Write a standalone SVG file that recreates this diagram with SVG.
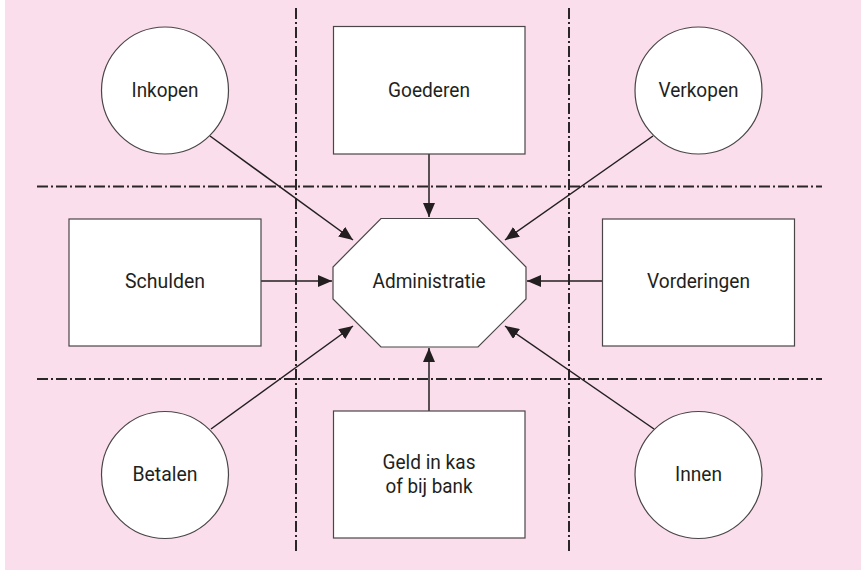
<svg xmlns="http://www.w3.org/2000/svg" width="861" height="571" viewBox="0 0 861 571">
<style>
.bg{fill:#fbdeec}
.shape{fill:#ffffff;stroke:#4a4547;stroke-width:1.2}
.grid{fill:none;stroke:#2a2526;stroke-width:2;stroke-dasharray:11 3 2 3}
.conn{fill:none;stroke:#231f20;stroke-width:1.5;marker-end:url(#ah)}
text{font-family:Roboto,"Liberation Sans",sans-serif;font-size:21px;fill:#231f20;text-anchor:middle}
</style>
<defs>
<marker id="ah" markerUnits="userSpaceOnUse" markerWidth="14" markerHeight="12" refX="14" refY="6" orient="auto">
<path d="M0,0 L14,6 L0,12 Z" fill="#231f20"/>
</marker>
</defs>
<rect class="bg" x="5" y="0" width="856" height="570"/>
<g id="gridlines">
<line class="grid" x1="296" y1="8" x2="296" y2="554"/>
<line class="grid" x1="569" y1="8" x2="569" y2="554"/>
<line class="grid" x1="37" y1="186.5" x2="822" y2="186.5"/>
<line class="grid" x1="37" y1="379" x2="822" y2="379"/>
</g>
<g id="connectors">
<line class="conn" x1="429" y1="154" x2="429" y2="217"/>
<line class="conn" x1="261" y1="281" x2="332" y2="281"/>
<line class="conn" x1="602" y1="281" x2="527" y2="281"/>
<line class="conn" x1="429" y1="411" x2="429" y2="348"/>
<line class="conn" x1="210" y1="136" x2="353" y2="240"/>
<line class="conn" x1="653" y1="136" x2="505" y2="240"/>
<line class="conn" x1="211" y1="429" x2="353" y2="326"/>
<line class="conn" x1="654" y1="429" x2="505" y2="326"/>
</g>
<g id="inkopen"><circle class="shape" cx="165" cy="90.5" r="63.5"/><text x="165" y="96.5" textLength="67" lengthAdjust="spacingAndGlyphs">Inkopen</text></g>
<g id="goederen"><rect class="shape" x="333.5" y="26.5" width="191.5" height="127.5"/><text x="429" y="96.5" textLength="82" lengthAdjust="spacingAndGlyphs">Goederen</text></g>
<g id="verkopen"><circle class="shape" cx="698.5" cy="90.5" r="63.5"/><text x="698.5" y="96.5" textLength="80" lengthAdjust="spacingAndGlyphs">Verkopen</text></g>
<g id="schulden"><rect class="shape" x="69" y="219" width="192" height="127"/><text x="165" y="288" textLength="80" lengthAdjust="spacingAndGlyphs">Schulden</text></g>
<g id="administratie"><polygon class="shape" points="381,218.5 478,218.5 526,267 526,299 478,347 381,347 333,299 333,267"/><text x="429" y="288" textLength="113" lengthAdjust="spacingAndGlyphs">Administratie</text></g>
<g id="vorderingen"><rect class="shape" x="602.5" y="219" width="192" height="127"/><text x="698.5" y="288" textLength="103" lengthAdjust="spacingAndGlyphs">Vorderingen</text></g>
<g id="betalen"><circle class="shape" cx="165" cy="475" r="63.5"/><text x="165" y="480.5" textLength="65" lengthAdjust="spacingAndGlyphs">Betalen</text></g>
<g id="geld"><rect class="shape" x="333.5" y="411" width="191.5" height="127"/><text x="429" y="469" textLength="93" lengthAdjust="spacingAndGlyphs">Geld in kas</text><text x="429" y="492.5" textLength="87" lengthAdjust="spacingAndGlyphs">of bij bank</text></g>
<g id="innen"><circle class="shape" cx="698.5" cy="475" r="63.5"/><text x="698.5" y="481" textLength="47" lengthAdjust="spacingAndGlyphs">Innen</text></g>
</svg>
